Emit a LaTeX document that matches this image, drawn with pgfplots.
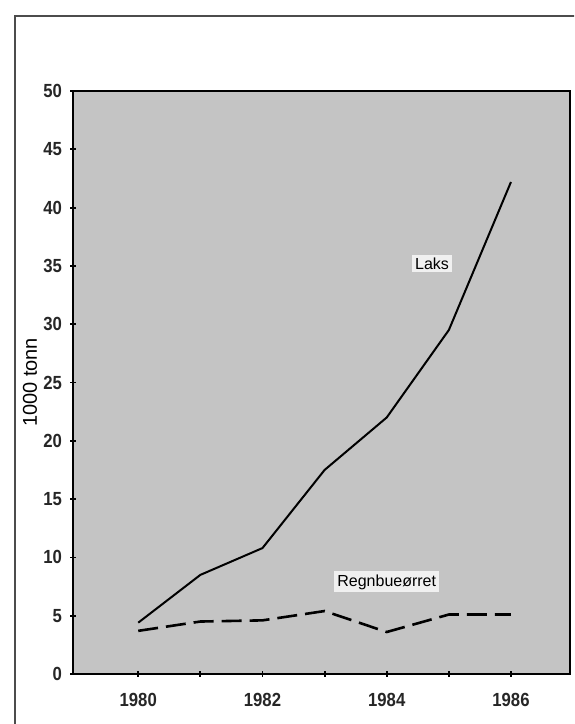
\documentclass[border=0pt]{standalone}
\usepackage{fontspec}
\setmainfont{Liberation Sans}
\newfontfamily\tickfont[FakeStretch=0.88]{Liberation Sans Bold}
\usepackage{pgfplots}
\pgfplotsset{compat=1.18}
\begin{document}
\begin{tikzpicture}[x=1pt,y=1pt]
\useasboundingbox (-36.5,-25) rectangle (250.5,337);
\clip (-36.5,-25) rectangle (250.5,337);
\draw[black!70, line width=0.9pt] (-29,-40) -- (-29,329) -- (270,329);
\begin{axis}[
  at={(0,0)}, anchor=south west,
  scale only axis,
  width=248.5pt, height=291.5pt,
  xmin=1978.95, xmax=1986.95,
  ymin=0, ymax=50,
  axis background/.style={fill=black!23},
  axis line style={line width=1pt},
  xtick={1980,1981,1982,1983,1984,1985,1986},
  xticklabels={1980,,1982,,1984,,1986},
  ytick={0,5,...,50},
  tick pos=left,
  tick align=center,
  major tick length=3pt,
  tick style={black, line width=0.9pt},
  /pgf/number format/assume math mode=true,
  tick label style={font=\tickfont\fontsize{9.5}{10}\selectfont, text=black!85},
  xticklabel style={yshift=-4.5pt},
  yticklabel style={xshift=-0.5pt},
  ylabel={1000 tonn},
  ylabel style={font=\fontsize{8}{9}\selectfont, text=black!80},
  every axis y label/.style={at={(axis description cs:0,0.5)}, xshift=-21.5pt, rotate=90, anchor=center},
  clip=false,
]
\addplot[black, line width=1pt, mark=none] coordinates {
(1980,4.4) (1981,8.5) (1982,10.8) (1983,17.5) (1984,22.0) (1985,29.5) (1986,42.2)
};
\addplot[black, line width=1.3pt, dash pattern=on 10pt off 4pt, mark=none] coordinates {
(1980,3.7) (1981,4.5) (1982,4.6) (1983,5.4) (1984,3.6) (1985,5.1) (1986,5.1)
};
\node[fill=black!6, inner sep=1.5pt, font=\fontsize{8}{9}\selectfont] at (axis cs:1984.73,35.2) {Laks};
\node[fill=black!6, inner sep=1.5pt, font=\fontsize{8}{9}\selectfont] at (axis cs:1984.0,7.9) {Regnbueørret};
\end{axis}
\end{tikzpicture}
\end{document}
